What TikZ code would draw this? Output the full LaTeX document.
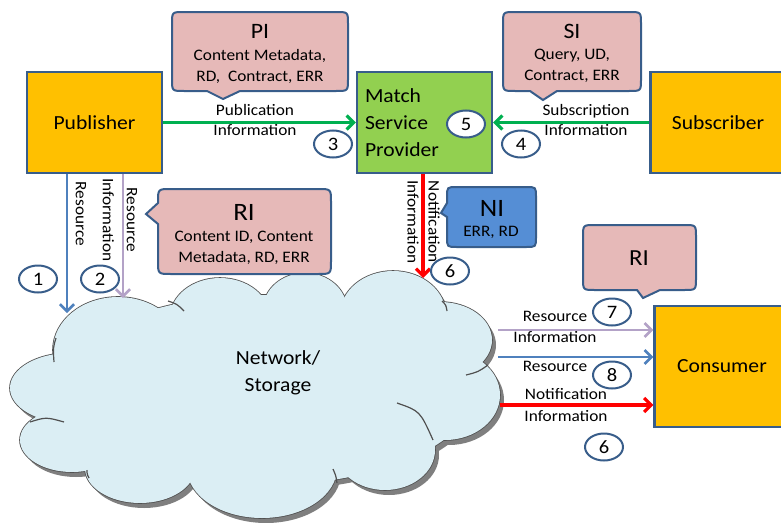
\documentclass[tikz,border=0pt]{standalone}
\usepackage{fontspec}
\setmainfont{Carlito}[FakeStretch=1.08]
\usetikzlibrary{arrows.meta,shapes.geometric}

\definecolor{boxline}{HTML}{385D8A}
\definecolor{amber}{HTML}{FFC000}
\definecolor{leaf}{HTML}{92D050}
\definecolor{rose}{HTML}{E6B9B8}
\definecolor{sky}{HTML}{558ED5}
\definecolor{flowgreen}{HTML}{00B050}
\definecolor{resblue}{HTML}{4F81BD}
\definecolor{lilac}{HTML}{B3A2C7}
\definecolor{alarm}{HTML}{FF0000}
\definecolor{cloudfill}{HTML}{DBEEF4}
\definecolor{cloudedge}{HTML}{505050}
\definecolor{cloudshade}{HTML}{7F7F7F}

% puffs of the cloud: centre x / centre y / x radius / y radius
\newcommand{\cloudpuffs}{70/388/60/35, 72/440/52/32, 140/468/55/35, 262/468/75/50,
  385/450/50/40, 445/395/55/45, 440/340/52/38, 393/315/53/44, 305/310/42/37,
  220/318/50/40, 118/350/65/53, 265/390/210/95}

\begin{document}
\begin{tikzpicture}[x=1pt,y=-1pt,
  font=\fontsize{16}{20}\selectfont,
  actor/.style={draw=boxline,line width=2.2pt,fill=amber,minimum width=135pt,
    minimum height=101pt,inner sep=0pt,font=\fontsize{20}{27}\selectfont},
  callbox/.style={draw=boxline,line width=2pt,fill=rose},
  title/.style={font=\fontsize{22}{24}\selectfont},
  body/.style={align=center,font=\fontsize{16}{21}\selectfont},
  numtag/.style={ellipse,draw=boxline,line width=2pt,fill=white,minimum width=38pt,
    minimum height=27pt,inner sep=0pt,font=\fontsize{19}{20}\selectfont},
  lbl/.style={align=center,inner sep=0pt,font=\fontsize{16}{20}\selectfont},
  arr/.style={line width=#1,-{Straight Barb[length=7pt,width=14pt]}},
  arr/.default=3.2pt,
  wrinkle/.style={cloudedge,line width=1.2pt}
]
\clip (0,0) rectangle (781,522);

% ---------------- cloud: shadow, outline, fill ----------------
\foreach \cx/\cy/\rx/\ry in \cloudpuffs
  \fill[cloudshade] (\cx+4,\cy+5) ellipse [x radius=\rx, y radius=\ry];
\foreach \cx/\cy/\rx/\ry in \cloudpuffs
  \draw[cloudedge,line width=1.6pt] (\cx,\cy) ellipse [x radius=\rx, y radius=\ry];
\foreach \cx/\cy/\rx/\ry in \cloudpuffs
  \fill[cloudfill] (\cx,\cy) ellipse [x radius=\rx, y radius=\ry];
% small inner folds of the cloud
\draw[wrinkle] (56,338) .. controls (53,348) .. (54,362);
\draw[wrinkle] (30,422) .. controls (46,417) .. (64,422);
\draw[wrinkle] (168,301) .. controls (177,304) .. (184,311);
\draw[wrinkle] (442,301) .. controls (446,305) .. (447,311);
\draw[wrinkle] (466,375) .. controls (478,372) .. (488,365);
\draw[wrinkle] (397,403) .. controls (420,411) .. (433,440);
\draw[wrinkle] (333,469) .. controls (336,476) .. (337,483);
\draw[wrinkle] (87,470) .. controls (87,474) .. (89,478);
\node[align=center,font=\fontsize{20}{27}\selectfont] (net) at (278,373) {Network/\\Storage};

% ---------------- main boxes ----------------
\node[actor] (pub) at (94.5,122.5) {Publisher};
\node[actor,fill=leaf,text width=119pt,align=left] (msp) at (424.5,122.5) {Match\\Service\\Provider};
\node[actor] (sub) at (718,122.5) {Subscriber};
\node[actor,minimum height=121pt] (cons) at (722,366.5) {Consumer};

% ---------------- callouts ----------------
% PI
\draw[callbox] (207,91) -- (223,99) -- (240,91) -- (336,91) .. controls (348,91) .. (348,79)
  -- (348,24) .. controls (348,12) .. (336,12) -- (184,12) .. controls (172,12) .. (172,24)
  -- (172,79) .. controls (172,91) .. (184,91) -- cycle;
\node[title] (pit) at (260,31) {PI};
\node[body] (pib) at (260,66) {Content Metadata,\\RD,\ \ Contract, ERR};
% SI
\draw[callbox] (530,91) -- (543,100) -- (557,91) -- (629,91) .. controls (641,91) .. (641,79)
  -- (641,24) .. controls (641,12) .. (629,12) -- (515,12) .. controls (503,12) .. (503,24)
  -- (503,79) .. controls (503,91) .. (515,91) -- cycle;
\node[title] (sit) at (572,31) {SI};
\node[body] (sib) at (572,66) {Query, UD,\\Contract, ERR};
% RI beside the publisher
\draw[callbox] (158,203) -- (146,214) -- (158,224) -- (158,261) .. controls (158,274) .. (171,274)
  -- (318,274) .. controls (331,274) .. (331,261) -- (331,202) .. controls (331,189) .. (318,189)
  -- (171,189) .. controls (158,189) .. (158,202) -- cycle;
\node[title,font=\fontsize{25}{26}\selectfont] (rit) at (244,212) {RI};
\node[body] (rib) at (244,248) {Content ID, Content\\Metadata, RD, ERR};
% NI
\draw[callbox,fill=sky] (447,203) -- (441,213) -- (447,217) -- (447,237) .. controls (447,247) .. (457,247)
  -- (526,247) .. controls (536,247) .. (536,237) -- (536,197) .. controls (536,187) .. (526,187)
  -- (457,187) .. controls (447,187) .. (447,197) -- cycle;
\node[title,font=\fontsize{25}{26}\selectfont] (nit) at (492,208) {NI};
\node[body] (nib) at (491,232) {ERR, RD};
% RI beside the consumer
\draw[callbox] (637,290) -- (643,298) -- (660,290) -- (684,290) .. controls (696,290) .. (696,278)
  -- (696,237) .. controls (696,225) .. (684,225) -- (595,225) .. controls (583,225) .. (583,237)
  -- (583,278) .. controls (583,290) .. (595,290) -- cycle;
\node[title,font=\fontsize{23}{24}\selectfont] (rit2) at (639,258) {RI};

% ---------------- connectors ----------------
\draw[arr,flowgreen] (pub.east) -- (msp.west);
\draw[arr,flowgreen] (sub.west) -- (msp.east);

\coordinate (resend) at (67,313);
\coordinate (riend) at (123,298);
\coordinate (niend) at (423,278);
\draw[arr=2.6pt,resblue] (resend |- pub.south) -- (resend);
\draw[arr=2.6pt,lilac] (riend |- pub.south) -- (riend);
\draw[arr,alarm] (niend |- msp.south) -- (niend);

\coordinate (ristart) at (498,330);
\coordinate (resstart) at (498,357);
\coordinate (nistart) at (500,405);
\draw[arr=2.6pt,lilac] (ristart) -- (ristart -| cons.west);
\draw[arr=2.6pt,resblue] (resstart) -- (resstart -| cons.west);
\draw[arr,alarm] (nistart) -- (nistart -| cons.west);

% ---------------- connector labels ----------------
\node[lbl] (publbl) at (255,120) {Publication\\Information};
\node[lbl] (sublbl) at (586,120) {Subscription\\Information};
\node[lbl,rotate=-90] (reslbl) at (81,214) {Resource};
\node[lbl,rotate=-90,font=\fontsize{16}{24}\selectfont] (rilbl) at (120,220) {Resource\\Information};
\node[lbl,rotate=-90,font=\fontsize{16}{21}\selectfont] (nilbl) at (423.5,222) {Notification\\Information};
\node[lbl,font=\fontsize{16}{21}\selectfont] (rilbl2) at (555,327) {Resource\\Information};
\node[lbl] (reslbl2) at (555,366) {Resource};
\node[lbl,font=\fontsize{16}{22}\selectfont] (nilbl2) at (566,405) {Notification\\Information};

% ---------------- step numbers ----------------
\node[numtag] (n1) at (38,279) {1};
\node[numtag] (n2) at (100,279) {2};
\node[numtag] (n3) at (333,144) {3};
\node[numtag] (n4) at (521,144) {4};
\node[numtag] (n5) at (466,124) {5};
\node[numtag] (n6a) at (450,271) {6};
\node[numtag] (n7) at (612,312) {7};
\node[numtag] (n8) at (612,375) {8};
\node[numtag] (n6b) at (604,447) {6};
\end{tikzpicture}
\end{document}
